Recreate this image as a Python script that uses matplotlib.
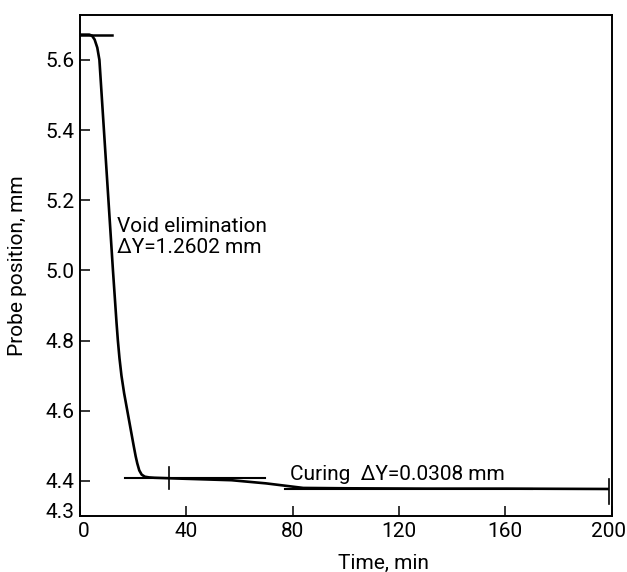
import matplotlib
matplotlib.use("Agg")
import matplotlib.pyplot as plt
import matplotlib.transforms as mtransforms

plt.rcParams['font.family'] = ['Roboto', 'DejaVu Sans']

# Probe position curve (time in min, position in mm)
time_min = [0, 3.5, 4.5, 5.5, 6.5, 7.3, 8.15, 9.0, 9.85, 10.7, 11.55, 12.4,
            13.3, 13.75, 14.25, 14.85, 15.6, 16.6, 17.8, 19.0, 20.2, 20.95,
            21.55, 22.3, 23.2, 24.4, 26, 28, 40, 57, 70, 84, 100, 130, 160, 199]
position_mm = [5.672, 5.672, 5.669, 5.658, 5.635, 5.600, 5.500, 5.400, 5.300,
               5.200, 5.100, 5.000, 4.900, 4.850, 4.800, 4.750, 4.700, 4.650,
               4.600, 4.550, 4.500, 4.470, 4.450, 4.430, 4.418, 4.412, 4.410,
               4.409, 4.406, 4.402, 4.393, 4.380, 4.379, 4.378, 4.378, 4.377]

# Reference levels
top_level = 5.672
mid_level = 4.409
low_level = 4.378

x_ticks = [0, 40, 80, 120, 160, 200]
y_ticks = [4.3, 4.4, 4.6, 4.8, 5.0, 5.2, 5.4, 5.6]
y_ticklabels = ['4.3', '4.4', '4.6', '4.8', '5.0', '5.2', '5.4', '5.6']

FS = 15

fig = plt.figure(figsize=(6.27, 5.72), dpi=100)
ax = fig.add_axes([0.1276, 0.0979, 0.8477, 0.8759])

ax.plot(time_min, position_mm, color='black', lw=1.9, solid_capstyle='butt',
        solid_joinstyle='round')

# reference lines
ax.plot([0, 12], [top_level, top_level], color='black', lw=1.8)
ax.plot([17, 69.5], [mid_level, mid_level], color='black', lw=1.5)
ax.plot([77, 170], [low_level, low_level], color='black', lw=1.5)
# vertical markers
ax.plot([33.3, 33.3], [4.377, 4.44], color='black', lw=1.2)
ax.plot([199, 199], [4.335, 4.405], color='black', lw=1.2)

ax.text(13.8, 5.152, 'Void elimination\n\u0394Y=1.2602 mm', ha='left', va='top',
        fontsize=FS, linespacing=1.15)
ax.text(78.9, 4.404, 'Curing  \u0394Y=0.0308 mm', ha='left', va='baseline',
        fontsize=FS)

ax.set_xlim(0, 200)
ax.set_ylim(4.3, 5.728)
ax.set_xticks(x_ticks)
ax.set_xticklabels([str(v) for v in x_ticks])
ax.set_yticks(y_ticks)
ax.set_yticklabels(y_ticklabels)
ax.tick_params(direction='in', length=7, width=1.1, labelsize=FS, pad=4)
for s in ax.spines.values():
    s.set_linewidth(1.4)

# nudge some tick labels as in the original
ylabs = ax.get_yticklabels()
ylabs[0].set_transform(ylabs[0].get_transform() +
                       mtransforms.ScaledTranslation(0, 6 / 100, fig.dpi_scale_trans))
xlabs = ax.get_xticklabels()
xlabs[0].set_transform(xlabs[0].get_transform() +
                       mtransforms.ScaledTranslation(4 / 100, 0, fig.dpi_scale_trans))
xlabs[-1].set_transform(xlabs[-1].get_transform() +
                        mtransforms.ScaledTranslation(-3 / 100, 0, fig.dpi_scale_trans))

ax.set_xlabel('Time, min', fontsize=FS)
ax.xaxis.set_label_coords(0.57, -0.075)
ax.set_ylabel('Probe position, mm', fontsize=FS)
ax.yaxis.set_label_coords(-0.10, 0.5)

fig.savefig('out.png', dpi=100)
